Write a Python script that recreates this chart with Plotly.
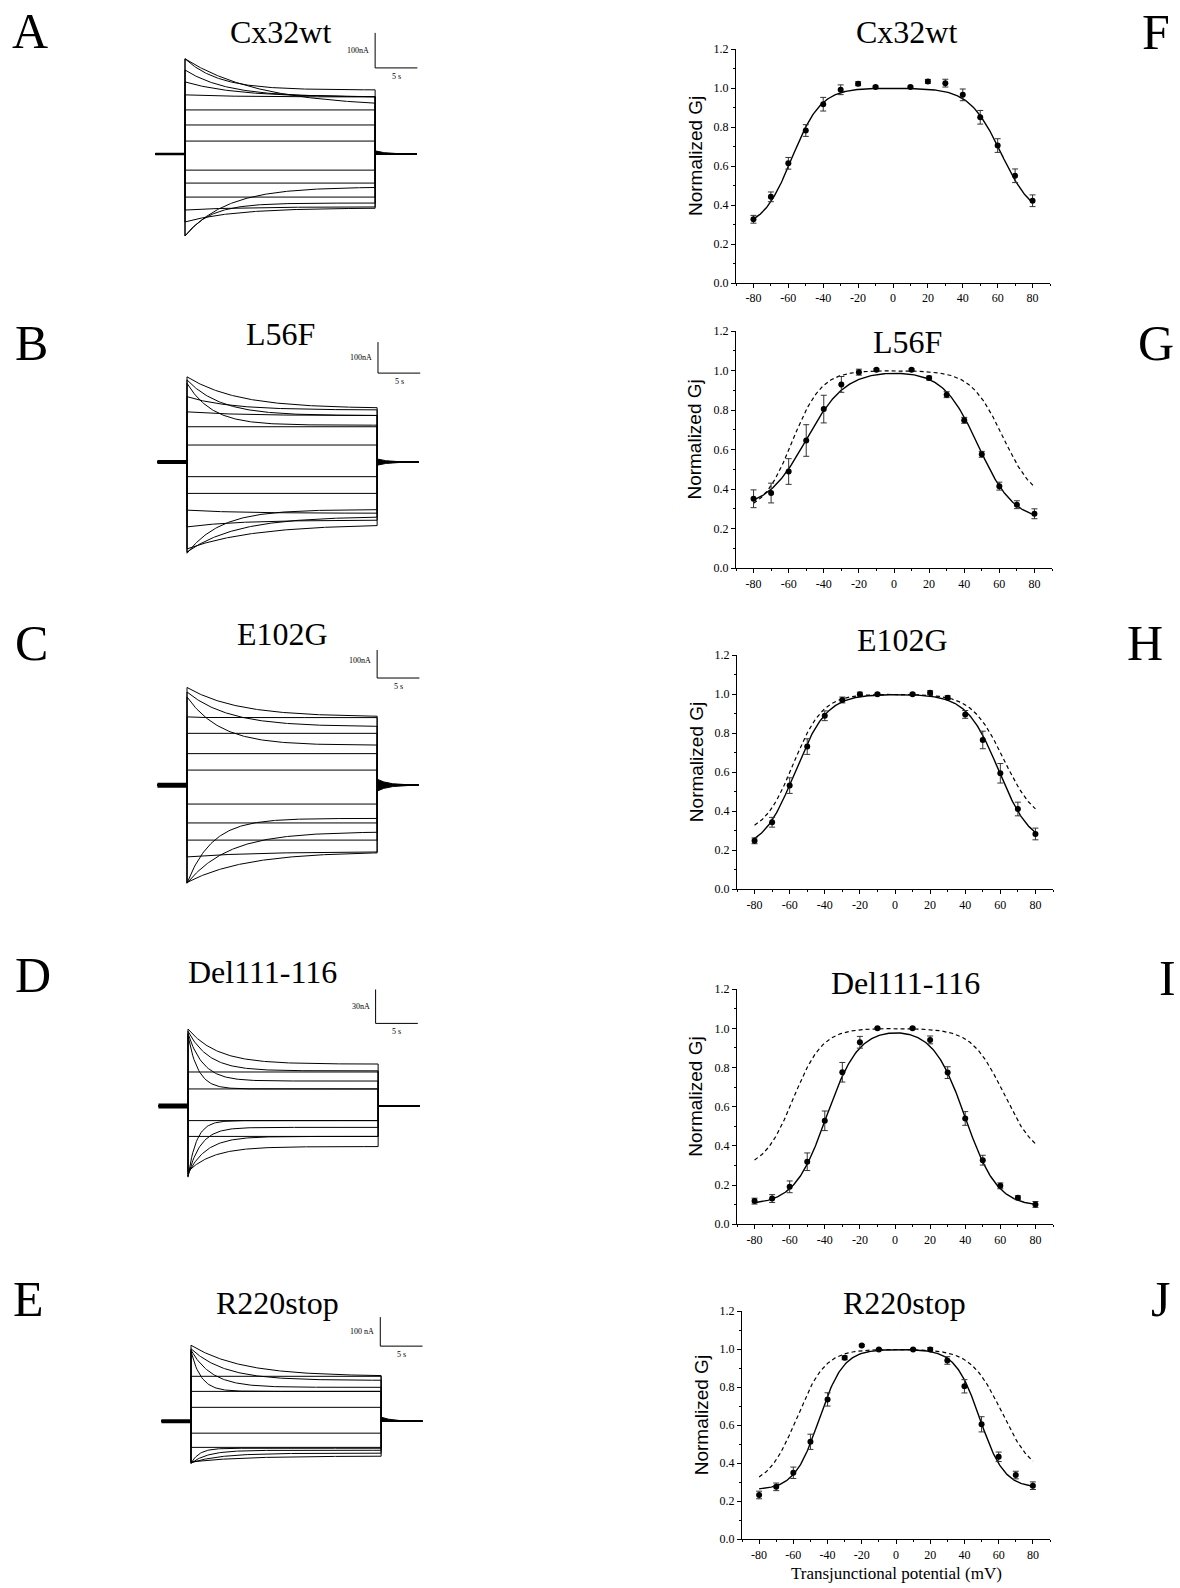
import numpy as np
import plotly.graph_objects as go

W, H = 1180, 1588
SERIF = "Liberation Serif, Times New Roman, serif"
SANS = "Liberation Sans, Arial, sans-serif"

# ---------------- Gj-Vj data (right column) ----------------
VJ = [-80, -70, -60, -50, -40, -30, -20, -10, 10, 20, 30, 40, 50, 60, 70, 80]
GJ_WT = [0.327, 0.442, 0.614, 0.782, 0.917, 0.991, 1.022, 1.005, 1.005, 1.034, 1.025, 0.965, 0.850, 0.705, 0.550, 0.422]
ERR_WT = [0.02, 0.025, 0.03, 0.03, 0.035, 0.025, 0.01, 0.005, 0.005, 0.01, 0.02, 0.03, 0.035, 0.035, 0.035, 0.03]
GJ_L56F = [0.351, 0.38, 0.489, 0.646, 0.805, 0.930, 0.992, 1.004, 1.004, 0.962, 0.878, 0.748, 0.576, 0.415, 0.321, 0.275]
ERR_L56F = [0.045, 0.05, 0.065, 0.08, 0.07, 0.04, 0.015, 0.005, 0.005, 0.01, 0.015, 0.015, 0.015, 0.02, 0.02, 0.025]
GJ_E102G = [0.248, 0.343, 0.531, 0.731, 0.889, 0.970, 1.0, 1.0, 1.0, 1.007, 0.982, 0.896, 0.765, 0.594, 0.411, 0.283]
ERR_E102G = [0.015, 0.025, 0.04, 0.04, 0.025, 0.015, 0.01, 0.005, 0.005, 0.01, 0.01, 0.02, 0.045, 0.05, 0.035, 0.03]
GJ_DEL = [0.118, 0.131, 0.191, 0.319, 0.528, 0.776, 0.929, 1.0, 1.0, 0.941, 0.774, 0.540, 0.327, 0.196, 0.135, 0.101]
ERR_DEL = [0.015, 0.02, 0.03, 0.045, 0.05, 0.05, 0.03, 0.005, 0.005, 0.02, 0.03, 0.035, 0.025, 0.015, 0.01, 0.015]
GJ_R220 = [0.233, 0.276, 0.350, 0.513, 0.736, 0.955, 1.020, 0.999, 0.999, 0.999, 0.941, 0.805, 0.605, 0.434, 0.338, 0.282]
ERR_R220 = [0.02, 0.02, 0.03, 0.04, 0.035, 0.01, 0.005, 0.005, 0.005, 0.01, 0.02, 0.035, 0.04, 0.025, 0.02, 0.02]

# Boltzmann fit parameters: (Gmin, V0, A) for negative / positive Vj
FIT_WT = [(0.28, -58, 0.12), (0.33, 62, 0.11)]
FIT_L56F = [(0.30, -50, 0.09), (0.24, 48, 0.10)]
FIT_E102G = [(0.20, -57, 0.11), (0.22, 59, 0.11)]
FIT_DEL = [(0.10, -39, 0.11), (0.09, 40, 0.11)]
FIT_R220 = [(0.26, -45, 0.14), (0.27, 49, 0.14)]

X_TICKS = [-80, -60, -40, -20, 0, 20, 40, 60, 80]
X_MINOR = [-90, -70, -50, -30, -10, 10, 30, 50, 70, 90]
Y_TICKS = [0.0, 0.2, 0.4, 0.6, 0.8, 1.0, 1.2]
Y_MINOR = [0.1, 0.3, 0.5, 0.7, 0.9, 1.1]

NAMES = ["Cx32wt", "L56F", "E102G", "Del111-116", "R220stop"]
LEFT_LETTERS = ["A", "B", "C", "D", "E"]
RIGHT_LETTERS = ["F", "G", "H", "I", "J"]

# ---------------- current traces (left column) ----------------
# each trace: initial current I0 (nA), steady-state Iss (nA), time constant tau (s)
A_I0 = [272, 272, 240, 206, 169, 126, 83, 37, -46, -83, -123, -160, -194, -234, -234]
A_ISS = [134, 183, 163, 163, 163, 126, 83, 37, -46, -83, -123, -151, -154, -140, -94]
A_TAU = [9, 4, 5, 6, 6, 1, 1, 1, 1, 1, 1, 6, 6, 3, 5]

B_I0 = [275, 265, 254, 211, 162, 114, 55, -47, -101, -155, -209, -294, -290, -280]
B_ISS = [173, 150, 119, 168, 150, 114, 55, -47, -101, -165, -187, -153, -175, -200]
B_TAU = [6, 4, 3, 5, 6, 1, 1, 1, 1, 6, 6, 4, 6, 8]

C_I0 = [279, 266, 252, 195, 148, 90, 43, -54, -108, -157, -205, -280, -280, -278]
C_ISS = [195, 167, 114, 193, 148, 90, 43, -54, -108, -157, -190, -95, -133, -190]
C_TAU = [6, 5, 4, 1, 1, 1, 1, 1, 1, 1, 8, 3, 5, 7]

D_I0 = [68, 66, 64, 62, 30, 15, -13, -27, -63, -62, -60, -58]
D_ISS = [37, 31, 22, 15, 30, 15, -13, -27, -13, -19, -27, -36]
D_TAU = [3.5, 2.5, 1.8, 1.2, 1, 1, 1, 1, 1.0, 1.5, 2.2, 3.0]

E_I0 = [262, 250, 245, 240, 155, 103, 48, -41, -90, -145, -145, -143, -140]
E_ISS = [155, 141, 117, 103, 155, 103, 48, -41, -90, -93, -100, -110, -120]
E_TAU = [6, 4, 2.5, 1.2, 1, 1, 1, 1, 1, 1.0, 2.0, 3.5, 6.0]

TAIL_UP = [9, 10, 17, 0, 14]     # nA, post-pulse tail transient
TAIL_DN = [0, 10, 17, 0, 0]
SCALE_NA = [100, 100, 100, 30, 100]
SCALE_LABEL = ["100nA", "100nA", "100nA", "30nA", "100 nA"]
SCALE_S = 5
PULSE_S = 22.5
HOLD_START = -3.5
TAIL_END = 27.4

TRACES = [(A_I0, A_ISS, A_TAU), (B_I0, B_ISS, B_TAU), (C_I0, C_ISS, C_TAU),
          (D_I0, D_ISS, D_TAU), (E_I0, E_ISS, E_TAU)]
RIGHT = [(GJ_WT, ERR_WT, FIT_WT), (GJ_L56F, ERR_L56F, FIT_L56F), (GJ_E102G, ERR_E102G, FIT_E102G),
         (GJ_DEL, ERR_DEL, FIT_DEL), (GJ_R220, ERR_R220, FIT_R220)]

# ---------------- layout geometry (pixels) ----------------
PPS = 8.45                                   # px per second
L_X0 = [185, 187, 187, 188, 191]             # pulse-start px
L_YB = [154, 462, 785, 1105.7, 1421]         # baseline px
L_PPN = [0.35, 0.31, 0.35, 1.13, 0.29]       # px per nA
SB_CORNER = [(22.5, 246), (22.6, 287), (22.5, 306), (22.2, 73), (22.4, 259)]
HOLD_W = [2.5, 4, 5, 5, 4]
L_TITLE = [(280, 32), (280, 334), (282, 634), (262, 972), (277, 1303)]
L_LETTER = [(30, 31), (31, 343), (31, 643), (33, 975), (28, 1299)]

R_BOX = [(736, 1050, 49, 283), (736, 1052, 331, 568), (737, 1053, 655, 889),
         (737, 1053, 989, 1224), (742, 1050, 1311, 1539)]
R_TITLE = [(906, 32), (907, 342), (902, 640), (905, 983), (904, 1303)]
R_LETTER = [(1156, 32), (1156, 343), (1145, 643), (1167, 978), (1160, 1299)]

# empirical correction of the page's vertical rendering (measured)
Y_C, Y_S = 7.0, 0.991


def fy(y):
    return (y - Y_C) / Y_S


def px_x(a, b):
    return [a / W, b / W]


def px_y(top, bottom):
    return [1 - fy(bottom) / H, 1 - fy(top) / H]


def boltz(v, fit):
    (gn, vn, an), (gp, vp, ap) = fit
    neg = gn + (1 - gn) / (1 + np.exp(an * (vn - v)))
    pos = gp + (1 - gp) / (1 + np.exp(ap * (v - vp)))
    return neg * pos


def paper_text(x, y, text, size, family=SERIF, angle=0):
    return dict(x=x / W, y=1 - fy(y) / H, xref="paper", yref="paper", text=text, textangle=angle,
                xanchor="center", yanchor="middle", showarrow=False,
                font=dict(family=family, size=size, color="black"))


fig = go.Figure()
layout = dict(width=W, height=H, margin=dict(l=0, r=0, t=0, b=0, pad=0), showlegend=False,
              autosize=False, plot_bgcolor="white", paper_bgcolor="white")
annotations = []

# ---------- left panels ----------
for i in range(5):
    ax = i + 1
    xs = "x" if ax == 1 else f"x{ax}"
    ys = "y" if ax == 1 else f"y{ax}"
    x0, yb, ppn = L_X0[i], L_YB[i], L_PPN[i]
    xr = (-4.5, 29.5)
    half = 135
    layout["xaxis" if ax == 1 else f"xaxis{ax}"] = dict(
        domain=px_x(x0 + xr[0] * PPS, x0 + xr[1] * PPS), range=list(xr), visible=False, anchor=ys)
    layout["yaxis" if ax == 1 else f"yaxis{ax}"] = dict(
        domain=px_y(yb - half, yb + half), range=[-half / ppn, half / ppn], visible=False, anchor=xs)

    i0s, isss, taus = TRACES[i]
    tp = np.linspace(0, PULSE_S, 160)
    for I0, Iss, tau in zip(i0s, isss, taus):
        cur = Iss + (I0 - Iss) * np.exp(-tp / tau)
        t = np.concatenate([[HOLD_START, 0], tp, [PULSE_S, TAIL_END]])
        y = np.concatenate([[0, 0], cur, [0, 0]])
        fig.add_trace(go.Scatter(x=t, y=y, mode="lines", line=dict(color="black", width=1),
                                 xaxis=xs, yaxis=ys, hoverinfo="skip"))
    fig.add_trace(go.Scatter(x=[HOLD_START, 0], y=[0, 0], mode="lines",
                             line=dict(color="black", width=HOLD_W[i]), xaxis=xs, yaxis=ys))
    tt = np.linspace(PULSE_S, PULSE_S + 4.9, 60)
    for amp in (TAIL_UP[i], -TAIL_DN[i]):
        if amp != 0:
            fig.add_trace(go.Scatter(x=tt, y=amp * np.exp(-(tt - PULSE_S) / 1.3), mode="lines",
                                     fill="tozeroy", fillcolor="black",
                                     line=dict(color="black", width=1), xaxis=xs, yaxis=ys))
    fig.add_trace(go.Scatter(x=[PULSE_S, TAIL_END], y=[0, 0], mode="lines",
                             line=dict(color="black", width=1), xaxis=xs, yaxis=ys))
    tc, ic = SB_CORNER[i]
    fig.add_trace(go.Scatter(x=[tc, tc, tc + SCALE_S], y=[ic + SCALE_NA[i], ic, ic], mode="lines",
                             line=dict(color="black", width=1), xaxis=xs, yaxis=ys))
    annotations.append(dict(x=tc, y=ic + SCALE_NA[i] / 2, xref=xs, yref=ys, text=SCALE_LABEL[i],
                            showarrow=False, xanchor="right", yanchor="middle", xshift=-4,
                            font=dict(family=SERIF, size=8, color="black")))
    annotations.append(dict(x=tc + SCALE_S / 2, y=ic, xref=xs, yref=ys, text=f"{SCALE_S} s",
                            showarrow=False, xanchor="center", yanchor="top", yshift=-2,
                            font=dict(family=SERIF, size=8, color="black")))
    tx, ty = L_TITLE[i]
    annotations.append(paper_text(tx, ty, NAMES[i], 32))
    lx, ly = L_LETTER[i]
    annotations.append(paper_text(lx, ly, LEFT_LETTERS[i], 50))

# ---------- right panels ----------
vfit = np.linspace(-80, 80, 321)
for i in range(5):
    ax = i + 6
    xs, ys = f"x{ax}", f"y{ax}"
    xl, xrp, yt, ybt = R_BOX[i]
    common = dict(showline=True, linecolor="black", linewidth=1, ticks="outside", ticklen=4,
                  tickwidth=1, tickcolor="black", showgrid=False, zeroline=False,
                  tickfont=dict(family=SERIF, size=12, color="black"))
    layout[f"xaxis{ax}"] = dict(domain=px_x(xl, xrp), range=[-90, 90], anchor=ys,
                                tickmode="array", tickvals=X_TICKS, ticktext=[str(v) for v in X_TICKS],
                                minor=dict(tickvals=X_MINOR, ticks="outside", ticklen=2, tickcolor="black"),
                                **common)
    layout[f"yaxis{ax}"] = dict(domain=px_y(yt, ybt), range=[0, 1.2], anchor=xs,
                                tickmode="array", tickvals=Y_TICKS, ticktext=[f"{v:.1f}" for v in Y_TICKS],
                                minor=dict(tickvals=Y_MINOR, ticks="outside", ticklen=2, tickcolor="black"),
                                **common)
    g, e, fit = RIGHT[i]
    if i > 0:
        fig.add_trace(go.Scatter(x=vfit, y=boltz(vfit, FIT_WT), mode="lines",
                                 line=dict(color="black", width=1.2, dash="4px,3px"), xaxis=xs, yaxis=ys))
    fig.add_trace(go.Scatter(x=vfit, y=boltz(vfit, fit), mode="lines",
                             line=dict(color="black", width=1.4), xaxis=xs, yaxis=ys))
    fig.add_trace(go.Scatter(x=VJ, y=g, mode="markers",
                             marker=dict(color="black", size=6, symbol="circle"),
                             error_y=dict(type="data", array=e, color="#333", thickness=1, width=3),
                             xaxis=xs, yaxis=ys))
    annotations.append(paper_text(xl - 41, (yt + ybt) / 2 - 10, "Normalized Gj", 19, SANS, -90))
    tx, ty = R_TITLE[i]
    annotations.append(paper_text(tx, ty, NAMES[i], 32))
    lx, ly = R_LETTER[i]
    annotations.append(paper_text(lx, ly, RIGHT_LETTERS[i], 50))

annotations.append(paper_text(897, 1573, "Transjunctional potential (mV)", 17))

layout["annotations"] = annotations
fig.update_layout(**layout)
fig.write_html("out.html", config={"displayModeBar": False},
               post_script="document.body.style.margin='0';document.body.style.overflow='hidden';")
